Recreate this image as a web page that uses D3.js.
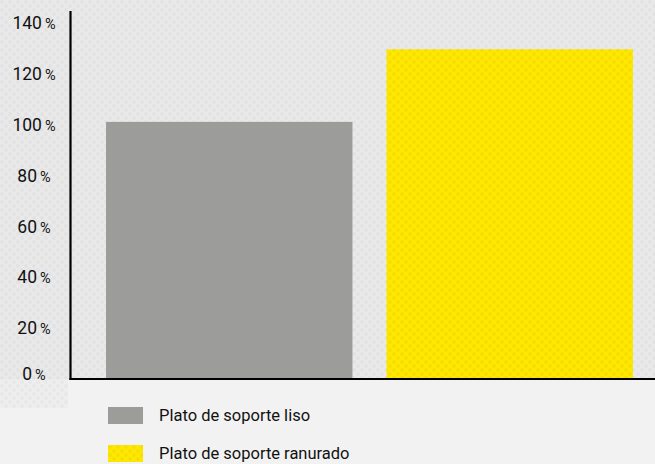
<!DOCTYPE html>
<html>
<head>
<meta charset="utf-8">
<script src="https://cdn.jsdelivr.net/npm/d3@7"></script>
<style>
  html, body { margin: 0; padding: 0; background: #f2f2f2; }
  svg { display: block; }
  text { font-family: Roboto, "Noto Sans", sans-serif; fill: #111; }
</style>
</head>
<body>
<svg id="chart" width="655" height="464"></svg>
<script>
// Relative performance of the two backing pads (percent)
const categories = ["Plato de soporte liso", "Plato de soporte ranurado"];
const values = [101, 129.5];
const colors = ["#9c9d9b", "#ffe800"];
const yTicks = [0, 20, 40, 60, 80, 100, 120, 140];

const W = 655, H = 464;
const svg = d3.select("#chart");
const defs = svg.append("defs");

// subtle dotted paper texture
function dots(id, base, dot) {
  const p = defs.append("pattern").attr("id", id)
    .attr("width", 8).attr("height", 8).attr("patternUnits", "userSpaceOnUse");
  p.append("rect").attr("width", 8).attr("height", 8).attr("fill", base);
  p.append("circle").attr("cx", 2).attr("cy", 2).attr("r", 1.9).attr("fill", dot);
  p.append("circle").attr("cx", 6).attr("cy", 6).attr("r", 1.9).attr("fill", dot);
}
dots("texGray", "#e9e9e9", "#e2e2e2");
dots("texLight", "#eeeeee", "#e8e8e8");
dots("texYellow", "#ffe800", "#f6df00");

const x0 = 70.5, yBase = 379;
const y = d3.scaleLinear().domain([0, 140]).range([yBase, 22.6]);
const x = d3.scaleBand().domain(categories).range([89, 650])
  .paddingInner(34 / 280).paddingOuter(17 / 280);

// textured backdrop
svg.append("rect").attr("x", 0).attr("y", 0).attr("width", W).attr("height", yBase)
  .attr("fill", "url(#texGray)");
svg.append("rect").attr("x", 0).attr("y", yBase).attr("width", 68).attr("height", 29)
  .attr("fill", "url(#texLight)");

// bars
svg.append("g").selectAll("rect").data(categories).join("rect")
  .attr("x", d => x(d))
  .attr("width", x.bandwidth())
  .attr("y", (d, i) => y(values[i]))
  .attr("height", (d, i) => y(0) - y(values[i]))
  .attr("fill", (d, i) => i === 1 ? "url(#texYellow)" : colors[i]);

// y axis labels, centred in the margin
const yAxis = svg.append("g");
const lab = yAxis.selectAll("text").data(yTicks).join("text")
  .attr("x", 34)
  .attr("y", d => y(d) + (d === 0 ? -5.5 : 0))
  .attr("dy", "0.36em")
  .attr("text-anchor", "middle")
  .style("font-size", "17.5px");
lab.append("tspan").text(d => d);
lab.append("tspan").attr("dx", 3).style("font-size", "14.5px").text("%");

// axis lines
svg.append("line").attr("x1", x0).attr("x2", x0).attr("y1", 11).attr("y2", yBase + 1)
  .attr("stroke", "#000").attr("stroke-width", 2.2);
svg.append("line").attr("x1", x0 - 1).attr("x2", W).attr("y1", yBase).attr("y2", yBase)
  .attr("stroke", "#000").attr("stroke-width", 2.2);

// legend
const leg = svg.append("g").selectAll("g").data(categories).join("g")
  .attr("transform", (d, i) => `translate(108, ${407 + i * 38})`);
leg.append("rect").attr("width", 35).attr("height", 17)
  .attr("fill", (d, i) => i === 1 ? "url(#texYellow)" : colors[i]);
leg.append("text").attr("x", 51).attr("y", 8).attr("dy", "0.36em")
  .style("font-size", "16.5px").text(d => d);
</script>
</body>
</html>
